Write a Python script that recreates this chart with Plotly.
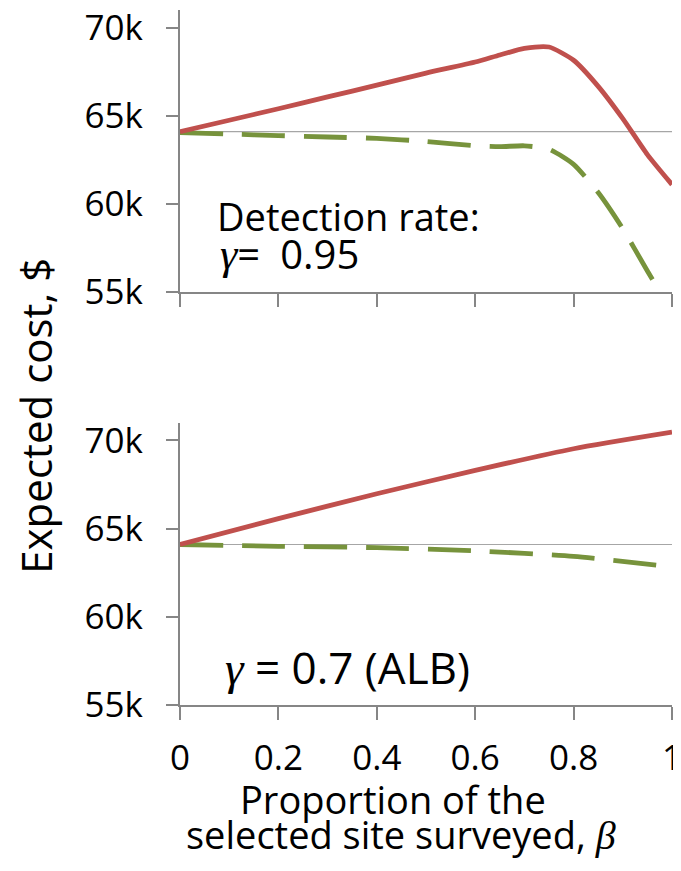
import plotly.graph_objects as go

# ---------------- data ----------------
beta_top = [0, 0.1, 0.2, 0.3, 0.4, 0.5, 0.6, 0.65, 0.7, 0.75, 0.8, 0.85, 0.9, 0.95, 1.0]
red_top = [64100, 64750, 65400, 66070, 66740, 67420, 68050, 68450, 68820, 68900, 68150, 66670, 64840, 62800, 61100]
green_top = [64050, 63970, 63880, 63800, 63720, 63550, 63300, 63250, 63300, 63100, 62250, 60650, 58600, 56200, 53900]

beta_bot = [0, 0.2, 0.4, 0.6, 0.8, 1.0]
red_bot = [64100, 65570, 66980, 68300, 69530, 70470]
green_bot = [64100, 64000, 63920, 63740, 63430, 62830]

baseline = [64100, 64100]
baseline_x = [0, 1]

y_tickvals = [55000, 60000, 65000, 70000]
y_ticktext = ["55k", "60k", "65k", "70k"]
x_tickvals = [0, 0.2, 0.4, 0.6, 0.8, 1]
x_ticktext = ["0", "0.2", "0.4", "0.6", "0.8", "1"]

# ---------------- style ----------------
FONT = "'Open Sans', sans-serif"
RED = "#C0504D"
GREEN = "#77933C"
AX = "#868686"
FS_TICK = 35
FS_ANN = 38
FS_G95 = 40
FS_ALB = 44
FS_XT = 38
FS_YT = 42

fig = go.Figure()

def add_panel(xa, ya, bx, r, g):
    fig.add_trace(go.Scatter(x=baseline_x, y=baseline, mode="lines",
                             line=dict(color="#A6A6A6", width=1.2),
                             xaxis=xa, yaxis=ya, showlegend=False, hoverinfo="skip"))
    fig.add_trace(go.Scatter(x=bx, y=g, mode="lines",
                             line=dict(color=GREEN, width=4.8, dash="43px,19px", shape="spline", smoothing=0.6),
                             xaxis=xa, yaxis=ya, showlegend=False))
    fig.add_trace(go.Scatter(x=bx, y=r, mode="lines",
                             line=dict(color=RED, width=4.8, shape="spline", smoothing=0.6),
                             xaxis=xa, yaxis=ya, showlegend=False))

add_panel("x", "y", beta_top, red_top, green_top)
add_panel("x2", "y2", beta_bot, red_bot, green_bot)

xcommon = dict(range=[0, 1], showgrid=False, zeroline=False, showline=True,
               linecolor=AX, linewidth=2, ticks="outside", ticklen=13,
               tickcolor=AX, tickwidth=2, tickvals=x_tickvals, ticktext=x_ticktext,
               tickfont=dict(family=FONT, size=FS_TICK, color="black"),
               automargin=False, ticklabeloverflow="allow")
ycommon = dict(range=[55000, 71000], showgrid=False, zeroline=False, showline=True,
               linecolor=AX, linewidth=2, ticks="outside", ticklen=12,
               tickcolor=AX, tickwidth=2, tickvals=y_tickvals, ticktext=y_ticktext,
               tickfont=dict(family=FONT, size=FS_TICK, color="black"),
               ticklabelstandoff=16, automargin=False, ticklabeloverflow="allow")

top_dom = [0.594, 1.0]
bot_dom = [0.0, 0.406]

# page body has an 8px margin: figure is sized/placed to compensate
fig.update_layout(
    width=673, height=863,
    margin=dict(l=172, r=9, t=2, b=166),
    paper_bgcolor="white", plot_bgcolor="white",
    font=dict(family=FONT, size=FS_TICK, color="black"),
    xaxis=dict(xcommon, domain=[0, 1], anchor="y", showticklabels=False),
    yaxis=dict(ycommon, domain=top_dom, anchor="x"),
    xaxis2=dict(xcommon, domain=[0, 1], anchor="y2", ticklabelstandoff=8),
    yaxis2=dict(ycommon, domain=bot_dom, anchor="x2"),
)

def greek(ch, size):
    return "<span style=\"font-family:'Liberation Serif';font-size:%dpx\"><i>%s</i></span>" % (size, ch)

annots = [
    dict(text="Detection rate:", x=0.071, y=0.703, xanchor="left", yanchor="middle", size=FS_ANN),
    dict(text=greek("γ", 44) + "=\u2002" + "0.95", x=0.077, y=0.649, xanchor="left", yanchor="middle", size=FS_G95),
    dict(text=greek("γ", 47) + "\u00a0=\u00a00.7 (ALB)", x=0.087, y=0.054, xanchor="left", yanchor="middle", size=FS_ALB),
    dict(text="Proportion of the", x=0.433, y=-0.135, xanchor="center", yanchor="middle", size=FS_XT),
    dict(text="selected site surveyed, " + greek("β", 40), x=0.450, y=-0.186, xanchor="center", yanchor="middle", size=FS_XT),
    dict(text="Expected cost, $", x=-0.293, y=0.416, xanchor="center", yanchor="middle", textangle=-90, size=FS_YT),
]
for a in annots:
    size = a.pop("size")
    fig.add_annotation(dict(a, xref="paper", yref="paper", showarrow=False,
                            font=dict(family=FONT, size=size, color="black")))

fig.write_html("out.html")
